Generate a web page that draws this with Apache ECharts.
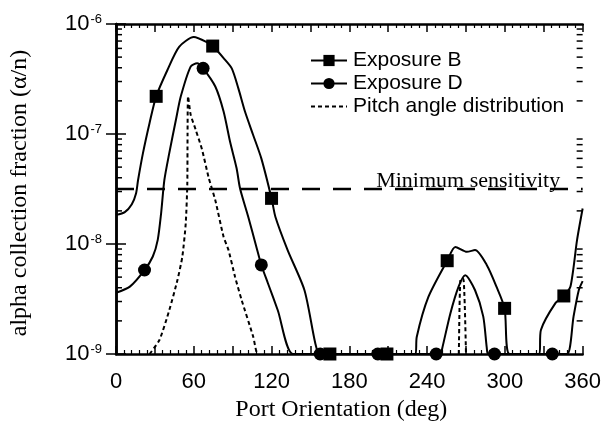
<!DOCTYPE html>
<html><head><meta charset="utf-8">
<script src="https://cdn.jsdelivr.net/npm/echarts@6/dist/echarts.min.js"></script>
<style>html,body{margin:0;padding:0;background:#fff}#c{width:604px;height:427px}</style>
</head><body><div id="c"></div>
<script>
// ---- data ----
const xTickLabels = [0, 60, 120, 180, 240, 300, 360];
const yMinorMultipliers = [2, 3, 4, 5, 6, 7, 8, 9];
const yMinorDecades = [1e-9, 1e-8, 1e-7];
const minSensitivity = 3.16e-8;
const minSensitivityRange = [0, 360];

const expBDeg = [0, 6.8, 12.2, 15.5, 17, 20.8, 25.9, 31, 39.6, 48.7, 60, 71.5, 74.6, 83, 89.3, 94.4, 99.5, 105.8, 112.1, 120, 123, 132.4, 145.4, 153.7, 157, 165, 209, 231, 232, 241, 255.5, 261.8, 270.7, 277, 286, 293.5, 299.8, 303.7, 326.5, 327.8, 339, 345.5, 350.6, 355.7, 360];
const expBVal = [1.84e-8, 1.95e-8, 2.3e-8, 2.9e-8, 3.8e-8, 6.7e-8, 1.26e-7, 2.2e-7, 3.8e-7, 6.2e-7, 7.6e-7, 6.7e-7, 6.3e-7, 4.9e-7, 3.95e-7, 2.6e-7, 1.6e-7, 9.8e-8, 6.0e-8, 2.6e-8, 1.76e-8, 8.8e-9, 3.8e-9, 1.26e-9, 1e-9, 1e-9, 1e-9, 1e-9, 1.43e-9, 3.3e-9, 7.05e-9, 9.4e-9, 8.5e-9, 8.8e-9, 6.45e-9, 4.1e-9, 2.6e-9, 1e-9, 1e-9, 1.65e-9, 2.9e-9, 3.37e-9, 4.1e-9, 1.09e-8, 2.1e-8];
const expBMarkers = [31, 74.6, 120, 165, 209, 255.5, 299.8, 345.5];

const expDDeg = [0, 10.7, 22, 28.4, 32.2, 34.8, 37.3, 41.1, 46.2, 50, 57.6, 62.6, 67.2, 76.6, 83, 88, 93, 95.7, 102, 108.3, 112.1, 117.2, 124.8, 136.5, 157.5, 202, 247, 250.4, 251.7, 258, 264.3, 269.4, 277, 283.3, 286, 287, 292, 336.6, 348, 353, 357, 360];
const expDVal = [3.6e-9, 4.1e-9, 5.8e-9, 7.7e-9, 1.09e-8, 1.9e-8, 3.8e-8, 6.7e-8, 1.34e-7, 2.2e-7, 4.1e-7, 4.4e-7, 3.95e-7, 2.7e-7, 1.6e-7, 8.5e-8, 4.9e-8, 3.2e-8, 1.77e-8, 9.4e-9, 6.45e-9, 4.4e-9, 2.5e-9, 1e-9, 1e-9, 1e-9, 1e-9, 1e-9, 1.13e-9, 2.35e-9, 4.1e-9, 5.2e-9, 3.8e-9, 2.2e-9, 1.15e-9, 1e-9, 1e-9, 1e-9, 1e-9, 2.2e-9, 3.8e-9, 4.6e-9];
const expDMarkers = [22, 67.2, 112.1, 157.5, 202, 247, 292, 336.6];

const pitchDeg = [25.9, 33.5, 41.1, 47.4, 51.2, 53.8, 55, 55.2, 55.6, 57.6, 61.4, 66.4, 71.5, 76.6, 83, 86.8, 91.9, 96.9, 105.8, 108.3, 109.6, 187, 264.5, 265.8, 268, 270];
const pitchVal = [1e-9, 1.34e-9, 2.5e-9, 4.7e-9, 7.7e-9, 1.54e-8, 3.5e-8, 1e-7, 2.2e-7, 1.5e-7, 1.1e-7, 7.2e-8, 4e-8, 2.5e-8, 1.16e-8, 8.8e-9, 5e-9, 3.1e-9, 1.44e-9, 1.05e-9, 1e-9, null, 1e-9, 4.8e-9, 4.8e-9, 1e-9];

// ---- build options ----
function markedData(xs, ys, marks, sym) {
  return xs.map((x, i) => ({
    value: [x, ys[i]],
    symbol: marks.indexOf(x) >= 0 ? sym : 'none'
  }));
}
const pitchData = pitchDeg.map((x, i) => [x, pitchVal[i] === null ? '-' : pitchVal[i]]);
const yMinor = [];
yMinorDecades.forEach(d => yMinorMultipliers.forEach(m => yMinor.push([0, m * d])));

const SANS = 'Liberation Sans, Arial, sans-serif';
const SERIF = 'Liberation Serif, Times New Roman, serif';
const axisLine = { show: true, lineStyle: { color: '#000', width: 2.5 } };

const chart = echarts.init(document.getElementById('c'), null, { renderer: 'canvas' });
chart.setOption({
  animation: false,
  backgroundColor: '#fff',
  grid: { left: 116, right: 15, top: 24, bottom: 73 },
  legend: {
    orient: 'vertical', left: 305, top: 45,
    itemWidth: 36, itemHeight: 14, itemGap: 2,
    data: ['Exposure B', 'Exposure D', { name: 'Pitch angle distribution', itemStyle: { opacity: 0 } }],
    textStyle: { fontFamily: SANS, fontSize: 21, color: '#000', padding: [0, 0, 0, 1] }
  },
  xAxis: [{
    type: 'value', min: 0, max: 360, interval: 30,
    axisLine: axisLine,
    axisTick: { inside: true, length: 8, lineStyle: { color: '#000', width: 1.5 } },
    minorTick: { show: true, splitNumber: 5, length: 4, lineStyle: { color: '#000', width: 1.2 } },
    splitLine: { show: false },
    axisLabel: {
      margin: 17, fontFamily: SANS, fontSize: 22, color: '#000',
      formatter: v => (xTickLabels.indexOf(v) >= 0 ? String(v) : '')
    },
    name: 'Port Orientation (deg)', nameLocation: 'middle', nameGap: 28,
    nameTextStyle: { fontFamily: SERIF, fontSize: 24, color: '#000', padding: [0, 16, 0, 0] }
  }, {
    type: 'value', min: 0, max: 360, interval: 30, position: 'top',
    axisLine: axisLine,
    axisTick: { inside: true, length: 8, lineStyle: { color: '#000', width: 1.5 } },
    minorTick: { show: true, splitNumber: 5, length: 4, lineStyle: { color: '#000', width: 1.2 } },
    splitLine: { show: false }, axisLabel: { show: false }
  }],
  yAxis: [{
    type: 'log', logBase: 10, min: 1e-9, max: 1e-6,
    axisLine: axisLine,
    axisTick: { inside: true, length: 10, lineStyle: { color: '#000', width: 1.5 } },
    splitLine: { show: false },
    axisLabel: {
      margin: 14, color: '#000',
      formatter: v => '{b|10}{s|' + Math.round(Math.log10(v)) + '}',
      rich: {
        b: { fontFamily: SANS, fontSize: 22, color: '#000' },
        s: { fontFamily: SANS, fontSize: 13, color: '#000', verticalAlign: 'top', padding: [0, 0, 10, 1] }
      }
    },
    name: 'alpha collection fraction (\u03b1/n)', nameLocation: 'middle', nameGap: 84,
    nameTextStyle: { fontFamily: SERIF, fontSize: 24, color: '#000', padding: [0, 8, 0, 0] }
  }, {
    type: 'log', logBase: 10, min: 1e-9, max: 1e-6, position: 'right',
    axisLine: axisLine,
    axisTick: { inside: true, length: 10, lineStyle: { color: '#000', width: 1.5 } },
    splitLine: { show: false }, axisLabel: { show: false }
  }],
  series: [{
    name: 'Exposure B', type: 'line', smooth: 0.25,
    symbol: 'rect', symbolSize: 13, showAllSymbol: true,
    lineStyle: { color: '#000', width: 2 }, itemStyle: { color: '#000' },
    data: markedData(expBDeg, expBVal, expBMarkers, 'rect'), z: 3
  }, {
    name: 'Exposure D', type: 'line', smooth: 0.25,
    symbol: 'circle', symbolSize: 13, showAllSymbol: true,
    lineStyle: { color: '#000', width: 2 }, itemStyle: { color: '#000' },
    data: markedData(expDDeg, expDVal, expDMarkers, 'circle'), z: 3
  }, {
    name: 'Pitch angle distribution', type: 'line', smooth: 0.2,
    symbol: 'none', connectNulls: false,
    lineStyle: { color: '#000', width: 2, type: [4, 3] }, itemStyle: { color: '#000' },
    data: pitchData, z: 2
  }, {
    name: 'Minimum sensitivity', type: 'line', symbol: 'none', silent: true, showAllSymbol: true,
    lineStyle: { color: '#000', width: 2.5, type: [18, 13] },
    data: [
      [minSensitivityRange[0], minSensitivity],
      {
        value: [minSensitivityRange[1], minSensitivity],
        symbol: 'circle', symbolSize: 1, itemStyle: { color: 'rgba(0,0,0,0)' },
        label: {
          show: true, position: 'left', distance: 22, offset: [0, -8],
          formatter: 'Minimum sensitivity',
          fontFamily: SERIF, fontSize: 22, color: '#000'
        }
      }
    ], z: 2
  }, {
    type: 'custom', silent: true, z: 4,
    renderItem: function (params, api) {
      const l = api.coord([0, api.value(1)]);
      const r = api.coord([360, api.value(1)]);
      return {
        type: 'group', children: [
          { type: 'line', shape: { x1: l[0], y1: l[1], x2: l[0] + 6, y2: l[1] }, style: { stroke: '#000', lineWidth: 1.5 } },
          { type: 'line', shape: { x1: r[0] - 6, y1: r[1], x2: r[0], y2: r[1] }, style: { stroke: '#000', lineWidth: 1.5 } }
        ]
      };
    },
    data: yMinor
  }]
});
</script>
</body></html>
